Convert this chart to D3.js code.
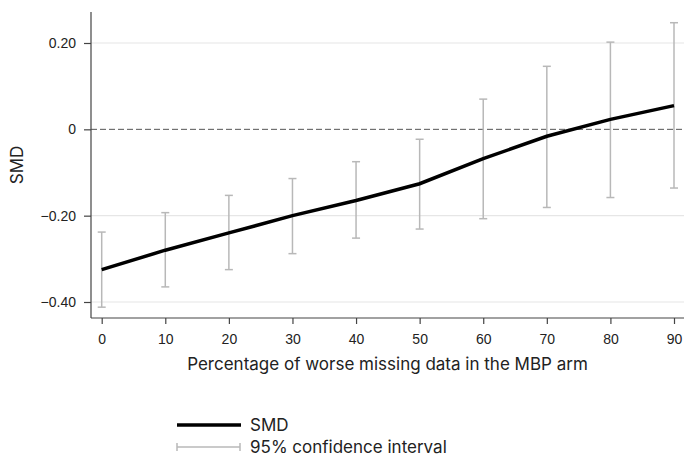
<!DOCTYPE html>
<html>
<head>
  <meta charset="UTF-8">
  <script src="https://d3js.org/d3.v7.min.js"></script>
  <style>
    html, body { margin: 0; padding: 0; background: #fff; overflow: hidden; }
    svg { display: block; font-family: Inter, "Noto Sans", sans-serif; }
  </style>
</head>
<body>
  <svg width="684" height="458"></svg>
  <script>
    // data
    const pct = [0, 10, 20, 30, 40, 50, 60, 70, 80, 90];
    const smd = [-0.325, -0.280, -0.240, -0.200, -0.165, -0.126, -0.068, -0.016, 0.023, 0.055];
    const ciLow = [-0.412, -0.365, -0.325, -0.288, -0.252, -0.231, -0.207, -0.181, -0.158, -0.136];
    const ciHigh = [-0.238, -0.193, -0.153, -0.114, -0.075, -0.023, 0.070, 0.146, 0.202, 0.247];
    const yTicks = [0.2, 0, -0.2, -0.4];
    const yTickLabels = ["0.20", "0", "\u22120.20", "\u22120.40"];

    const svg = d3.select("svg");
    const plotLeft = 91, plotRight = 684, plotTop = 12, plotBottom = 318;

    const x = d3.scaleLinear().domain([0, 90]).range([101.7, 674]);
    const y = d3.scaleLinear().domain([-0.4, 0.2]).range([302, 43]);

    const axisColor = "#444";
    const textColor = "#222";

    // gridlines
    svg.append("g").selectAll("line")
      .data(yTicks.filter(d => d !== 0))
      .enter().append("line")
      .attr("x1", plotLeft).attr("x2", plotRight)
      .attr("y1", d => y(d)).attr("y2", d => y(d))
      .attr("stroke", "#e6e6e6").attr("stroke-width", 1.2);

    // zero line
    svg.append("line")
      .attr("x1", plotLeft).attr("x2", plotRight)
      .attr("y1", y(0)).attr("y2", y(0))
      .attr("stroke", "#555").attr("stroke-width", 1)
      .attr("stroke-dasharray", "6,3");

    // confidence intervals
    const ci = svg.append("g").attr("stroke", "#b8b8b8").attr("stroke-width", 1.5);
    pct.forEach((p, i) => {
      const cx = x(p);
      ci.append("line").attr("x1", cx).attr("x2", cx).attr("y1", y(ciLow[i])).attr("y2", y(ciHigh[i]));
      ci.append("line").attr("x1", cx - 4).attr("x2", cx + 4).attr("y1", y(ciLow[i])).attr("y2", y(ciLow[i]));
      ci.append("line").attr("x1", cx - 4).attr("x2", cx + 4).attr("y1", y(ciHigh[i])).attr("y2", y(ciHigh[i]));
    });

    // SMD line
    const line = d3.line().x((d, i) => x(pct[i])).y(d => y(d));
    svg.append("path")
      .datum(smd)
      .attr("d", line)
      .attr("fill", "none")
      .attr("stroke", "#000")
      .attr("stroke-width", 3.5);

    // axes
    const xAxis = svg.append("g")
      .attr("transform", `translate(0,${plotBottom})`)
      .call(d3.axisBottom(x).tickValues(pct).tickSize(6).tickPadding(10).tickSizeOuter(0));
    xAxis.select(".domain").attr("d", `M${plotLeft},0H${plotRight}`);

    const yAxis = svg.append("g")
      .attr("transform", `translate(${plotLeft},0)`)
      .call(d3.axisLeft(y).tickValues(yTicks).tickSize(7).tickPadding(8)
        .tickFormat((d, i) => yTickLabels[i]).tickSizeOuter(0));
    yAxis.select(".domain").attr("d", `M0,${plotTop}V${plotBottom}`);

    svg.selectAll(".tick line").attr("stroke", axisColor).attr("stroke-width", 1.2);
    svg.selectAll(".domain").attr("stroke", axisColor).attr("stroke-width", 1.2);
    svg.selectAll(".tick text").attr("fill", textColor).style("font-size", "14px");

    // axis titles
    svg.append("text")
      .attr("x", (plotLeft + plotRight) / 2).attr("y", 370)
      .attr("text-anchor", "middle")
      .attr("fill", textColor)
      .style("font-size", "17px")
      .text("Percentage of worse missing data in the MBP arm");

    svg.append("text")
      .attr("transform", "translate(23,165) rotate(-90)")
      .attr("text-anchor", "middle")
      .attr("fill", textColor)
      .style("font-size", "17px")
      .text("SMD");

    // legend
    const lg = svg.append("g");
    lg.append("line").attr("x1", 177).attr("x2", 241).attr("y1", 425).attr("y2", 425)
      .attr("stroke", "#000").attr("stroke-width", 3.5);
    lg.append("text").attr("x", 250).attr("y", 431).attr("fill", textColor)
      .style("font-size", "17px").text("SMD");
    lg.append("line").attr("x1", 177).attr("x2", 240).attr("y1", 447).attr("y2", 447)
      .attr("stroke", "#b8b8b8").attr("stroke-width", 1.5);
    [177, 240].forEach(cx => lg.append("line").attr("x1", cx).attr("x2", cx)
      .attr("y1", 443).attr("y2", 451).attr("stroke", "#b8b8b8").attr("stroke-width", 1.5));
    lg.append("text").attr("x", 250).attr("y", 453).attr("fill", textColor)
      .style("font-size", "17px").text("95% confidence interval");
  </script>
</body>
</html>
